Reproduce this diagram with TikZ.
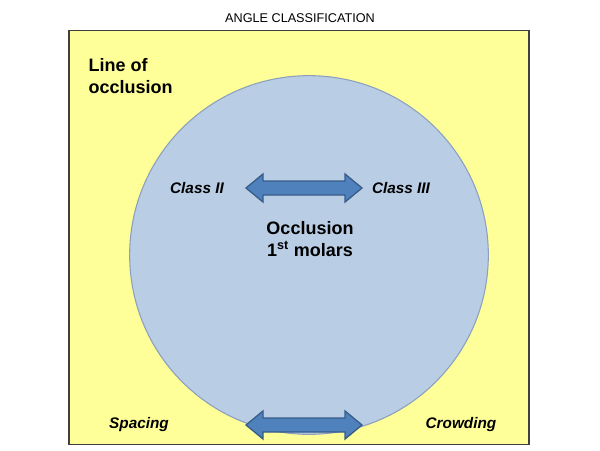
\documentclass[tikz,border=0pt]{standalone}
\usepackage{fontspec}
\setmainfont{Liberation Sans}
\definecolor{bgy}{RGB}{255,255,153}
\definecolor{circ}{RGB}{185,205,229}
\definecolor{circl}{RGB}{140,160,190}
\definecolor{arr}{RGB}{79,129,189}
\definecolor{arrl}{RGB}{56,93,138}
\begin{document}
\begin{tikzpicture}[x=0.75pt,y=-0.75pt,
  lbl/.style={font=\fontsize{11.5}{13}\selectfont\bfseries\itshape},
  big/.style={font=\fontsize{13.5}{16}\selectfont\bfseries,align=center},
  dbl/.style={draw=arrl,line width=1pt,fill=arr,line join=miter}]
\useasboundingbox (0,0) rectangle (600,450);
\node[font=\fontsize{9.5}{11}\selectfont] (title) at (300,18) {ANGLE CLASSIFICATION};
\node[draw=black!75,fill=bgy,line width=0.8pt,minimum width=345pt,minimum height=311pt,inner sep=0pt] (frame) at (299,237.5) {};
\node[circle,draw=circl,fill=circ,line width=0.8pt,minimum size=269pt,inner sep=0pt] (c) at (309,255) {};
\node[big,align=left,anchor=north west] (loo) at (84,54) {Line of\\occlusion};
\coordinate (a1) at (304,188);
\coordinate (a2) at (304,425);
\foreach \p in {a1,a2}{
\draw[dbl] ([shift={(-58,0)}]\p) -- ++(17,-14) -- ++(0,7) -- ++(82,0) -- ++(0,-7) -- ++(17,14)
  -- ++(-17,14) -- ++(0,-7) -- ++(-82,0) -- ++(0,7) -- cycle;}
\node[lbl] (c2) at (197,188) {Class II};
\node[lbl] (c3) at (401,188) {Class III};
\node[big] (occ) at (310,239) {Occlusion\\1\textsuperscript{st} molars};
\node[lbl] (sp) at (139,425) {Spacing};
\node[lbl] (cr) at (461,425) {Crowding};
\end{tikzpicture}
\end{document}
